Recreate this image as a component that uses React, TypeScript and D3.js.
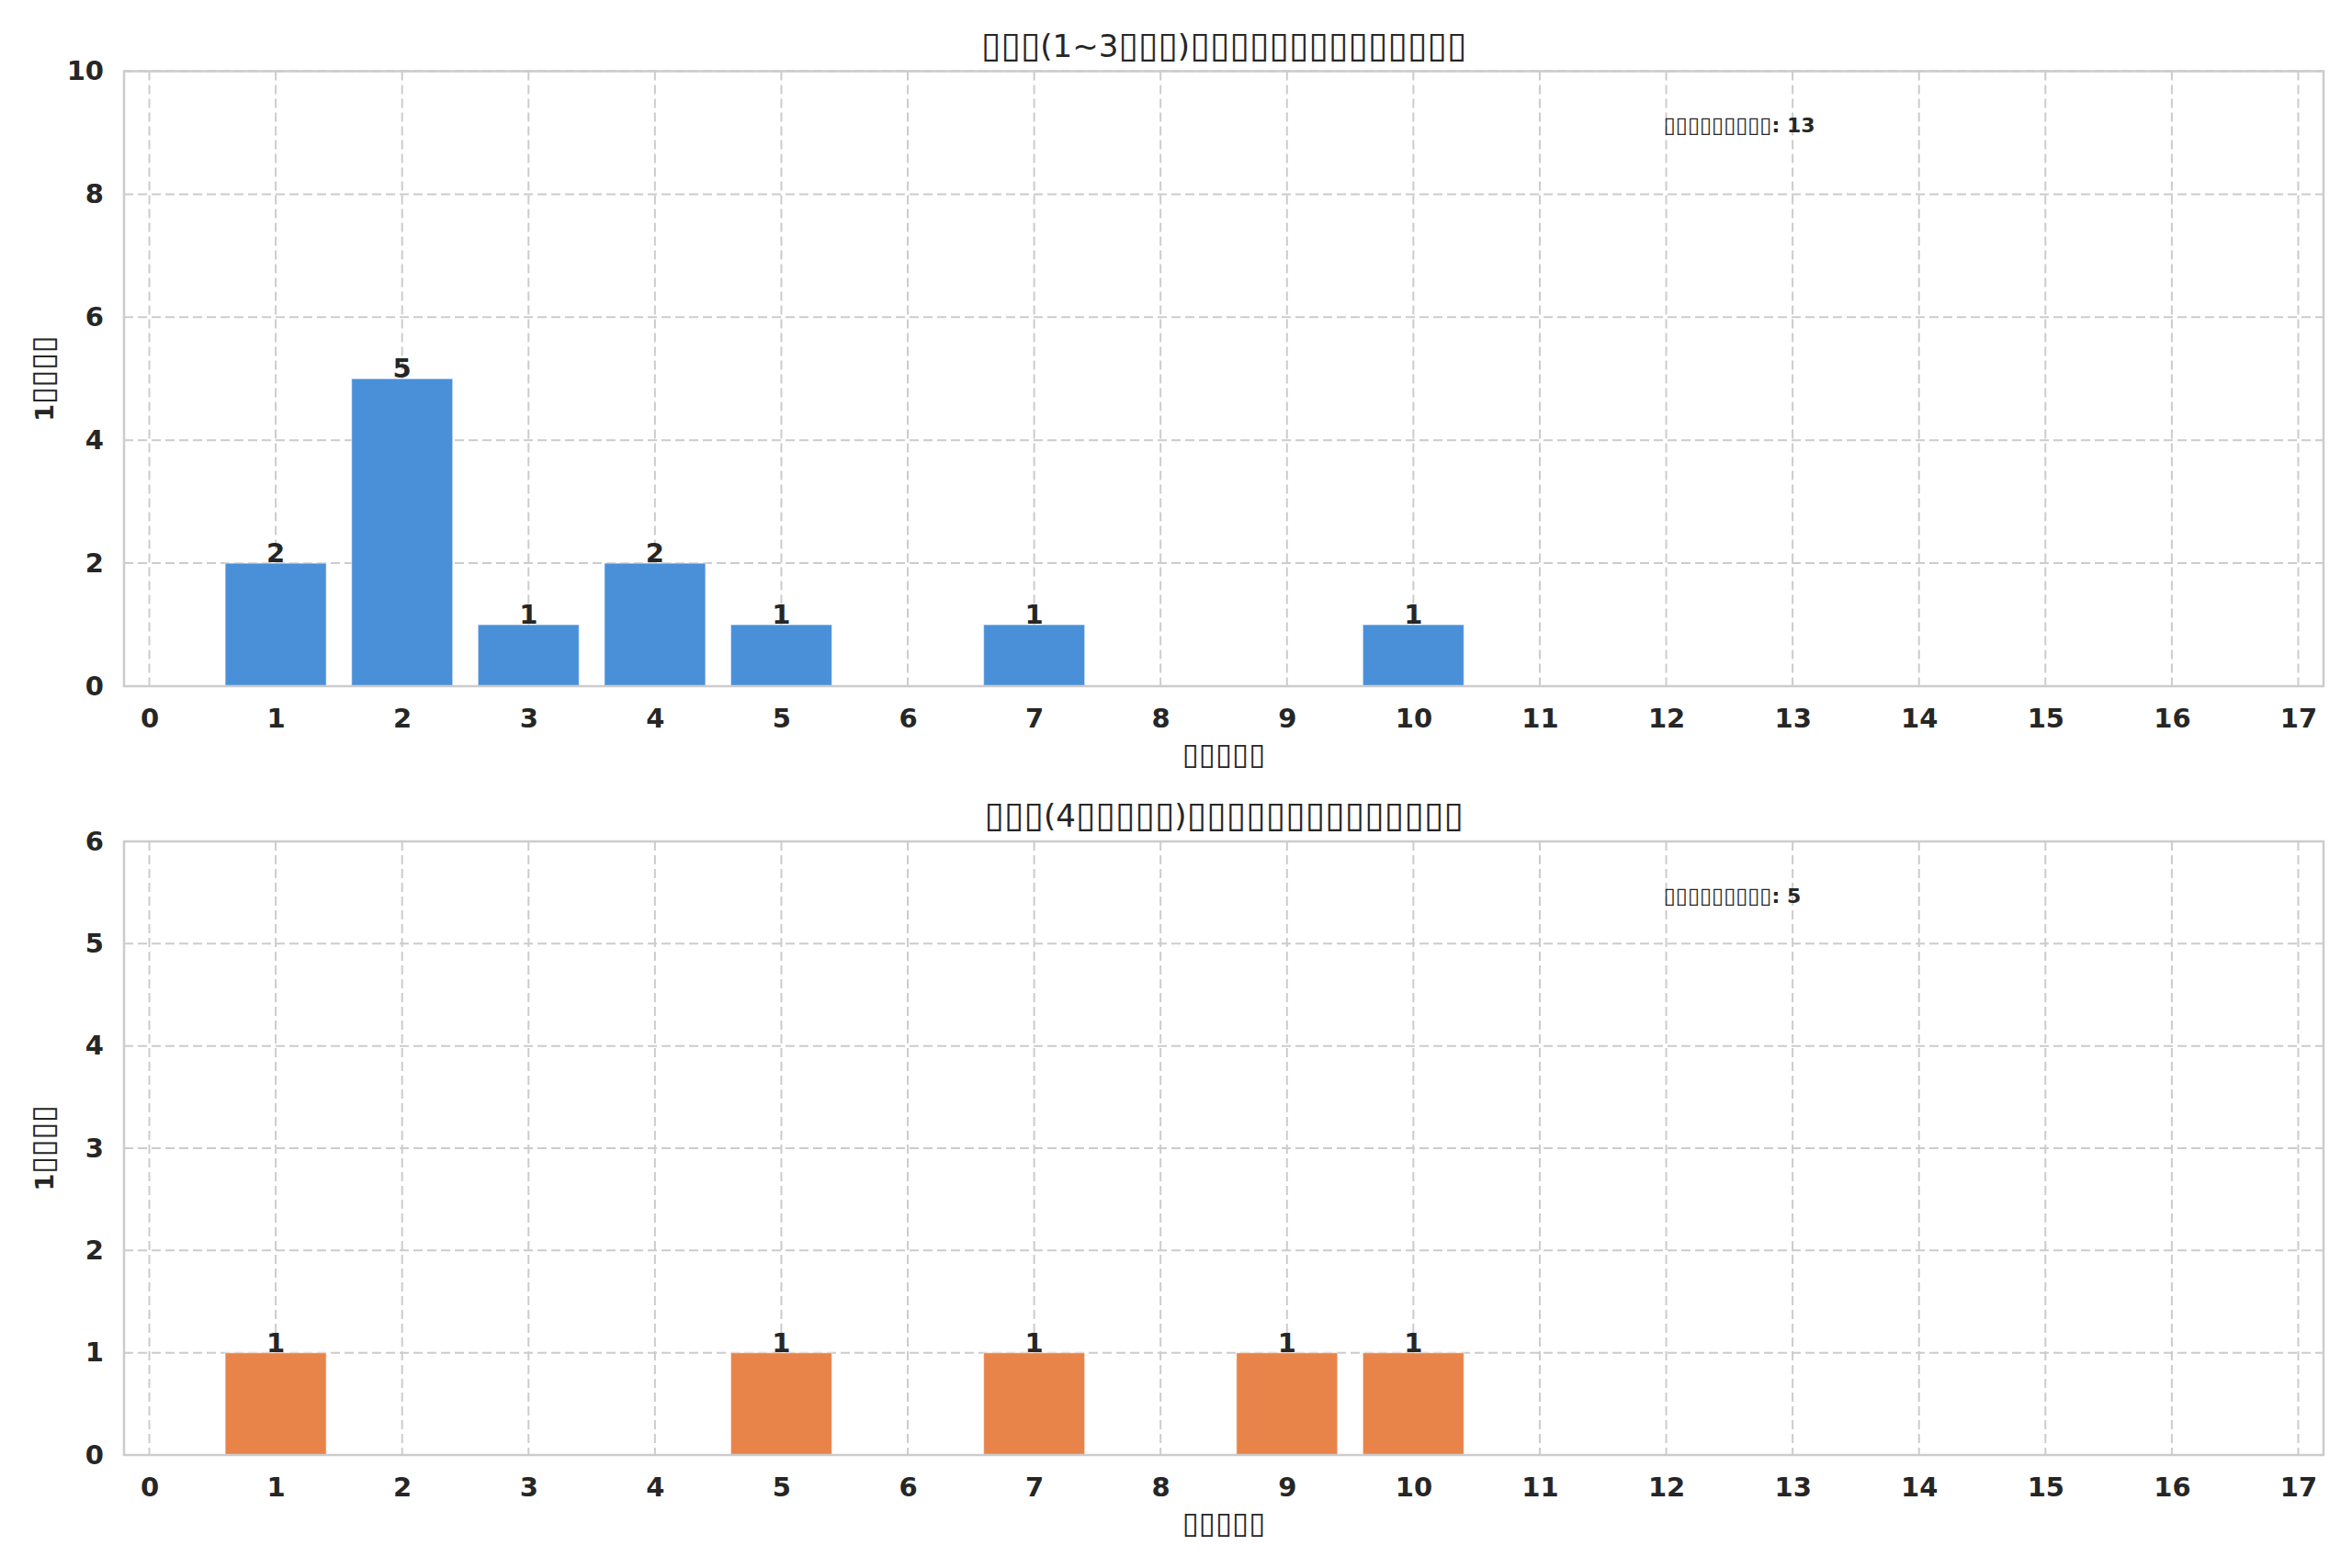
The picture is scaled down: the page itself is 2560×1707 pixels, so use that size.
import React, { useEffect, useRef } from 'react';
import * as d3 from 'd3';

// values
const xTicks = [0, 1, 2, 3, 4, 5, 6, 7, 8, 9, 10, 11, 12, 13, 14, 15, 16, 17];

const earlyX = [1, 2, 3, 4, 5, 7, 10];
const earlyValues = [2, 5, 1, 2, 1, 1, 1];
const earlyYTicks = [0, 2, 4, 6, 8, 10];

const lateX = [1, 5, 7, 9, 10];
const lateValues = [1, 1, 1, 1, 1];
const lateYTicks = [0, 1, 2, 3, 4, 5, 6];

// the source figure lost its CJK glyphs, so its labels show as empty boxes
const titles = ['▯▯▯(1~3▯▯▯)▯▯▯▯▯▯▯▯▯▯▯▯▯▯', '▯▯▯(4▯▯▯▯▯)▯▯▯▯▯▯▯▯▯▯▯▯▯▯'];
const xLabel = '▯▯▯▯▯';
const yLabel = '1▯▯▯▯';
const totalLabel = '▯▯▯▯▯▯▯▯▯';

const FONT = '"DejaVu Sans", sans-serif';
const TEXT = '#262626';
const GRID = '#cccccc';

// write a string into a <text>, giving the box runs their own (larger) size
const boxText = (sel, str, size, boxScale) => {
  const runs = str.match(/▯+|[^▯]+/g) || [];
  runs.forEach((run) => {
    const isBox = run[0] === '▯';
    sel
      .append('tspan')
      .attr('font-size', isBox ? size * boxScale : size)
      .text(run);
  });
  return sel;
};

const App = () => {
  const d3Container = useRef<SVGSVGElement | null>(null);

  const drawPanel = (svg, opts) => {
    const { top, bottom, xs, values, yTicks, color, title } = opts;
    const left = 135;
    const right = 2529;

    const xScale = d3.scaleLinear().domain([-0.2, 17.2]).range([left, right]);
    const yScale = d3
      .scaleLinear()
      .domain([0, yTicks[yTicks.length - 1]])
      .range([bottom, top]);

    const g = svg.append('g');

    // grid
    g.selectAll('.vgrid')
      .data(xTicks)
      .join('line')
      .attr('x1', (d) => xScale(d))
      .attr('x2', (d) => xScale(d))
      .attr('y1', top)
      .attr('y2', bottom)
      .attr('stroke', GRID)
      .attr('stroke-width', 2)
      .attr('stroke-dasharray', '10,5');

    g.selectAll('.hgrid')
      .data(yTicks)
      .join('line')
      .attr('x1', left)
      .attr('x2', right)
      .attr('y1', (d) => yScale(d))
      .attr('y2', (d) => yScale(d))
      .attr('stroke', GRID)
      .attr('stroke-width', 2)
      .attr('stroke-dasharray', '10,5');

    const bw = 0.8;
    const data = xs.map((x, i) => ({ x, v: values[i] }));

    g.selectAll('.bar')
      .data(data)
      .join('rect')
      .attr('x', (d) => xScale(d.x - bw / 2))
      .attr('y', (d) => yScale(d.v))
      .attr('width', xScale(bw) - xScale(0))
      .attr('height', (d) => yScale(0) - yScale(d.v))
      .attr('fill', color)
      .attr('stroke', '#ffffff')
      .attr('stroke-opacity', 0.5)
      .attr('stroke-width', 1.2);

    g.selectAll('.barlabel')
      .data(data)
      .join('text')
      .attr('x', (d) => xScale(d.x))
      .attr('y', (d) => yScale(d.v) - 1)
      .attr('text-anchor', 'middle')
      .attr('font-family', FONT)
      .attr('font-weight', 'bold')
      .attr('font-size', 29)
      .attr('fill', TEXT)
      .text((d) => d.v);

    // spines
    g.append('rect')
      .attr('x', left)
      .attr('y', top)
      .attr('width', right - left)
      .attr('height', bottom - top)
      .attr('fill', 'none')
      .attr('stroke', GRID)
      .attr('stroke-width', 2.5);

    const xAxis = g
      .append('g')
      .attr('transform', `translate(0,${bottom})`)
      .call(d3.axisBottom(xScale).tickValues(xTicks).tickSize(0).tickPadding(24).tickFormat(d3.format('d')));
    xAxis.select('.domain').remove();

    const yAxis = g
      .append('g')
      .attr('transform', `translate(${left},0)`)
      .call(d3.axisLeft(yScale).tickValues(yTicks).tickSize(0).tickPadding(22).tickFormat(d3.format('d')));
    yAxis.select('.domain').remove();

    g.selectAll('.tick text')
      .attr('font-family', FONT)
      .attr('font-weight', 'bold')
      .attr('font-size', 29)
      .attr('fill', TEXT);

    const titleText = g
      .append('text')
      .attr('x', (left + right) / 2)
      .attr('y', top - 16)
      .attr('text-anchor', 'middle')
      .attr('font-family', FONT)
      .attr('fill', TEXT);
    boxText(titleText, title, 34, 1.15);

    const xLabelText = g
      .append('text')
      .attr('x', (left + right) / 2)
      .attr('y', bottom + 85)
      .attr('text-anchor', 'middle')
      .attr('font-family', FONT)
      .attr('font-weight', 'bold')
      .attr('fill', TEXT);
    boxText(xLabelText, xLabel, 27, 1.22);

    const yLabelText = g
      .append('text')
      .attr('transform', `translate(58,${(top + bottom) / 2}) rotate(-90)`)
      .attr('text-anchor', 'middle')
      .attr('font-family', FONT)
      .attr('font-weight', 'bold')
      .attr('fill', TEXT);
    boxText(yLabelText, yLabel, 27, 1.25);

    const total = d3.sum(values);
    const totalText = g
      .append('text')
      .attr('x', left + (right - left) * 0.7)
      .attr('y', bottom - (bottom - top) * 0.9)
      .attr('font-family', FONT)
      .attr('font-weight', 'bold')
      .attr('fill', TEXT);
    boxText(totalText, `${totalLabel}: ${total}`, 22, 1.08);
  };

  useEffect(() => {
    if (!d3Container.current) return;
    const svg = d3.select(d3Container.current);
    svg.selectAll('*').remove();

    drawPanel(svg, {
      top: 77.5,
      bottom: 747,
      xs: earlyX,
      values: earlyValues,
      yTicks: earlyYTicks,
      color: '#4a90d9',
      title: titles[0],
    });
    drawPanel(svg, {
      top: 916,
      bottom: 1584,
      xs: lateX,
      values: lateValues,
      yTicks: lateYTicks,
      color: '#e8844a',
      title: titles[1],
    });
  }, []);

  return (
    <svg
      ref={d3Container}
      width={2560}
      height={1707}
      style={{ position: 'absolute', left: 0, top: 0, background: '#ffffff' }}
    />
  );
};

export default App;
